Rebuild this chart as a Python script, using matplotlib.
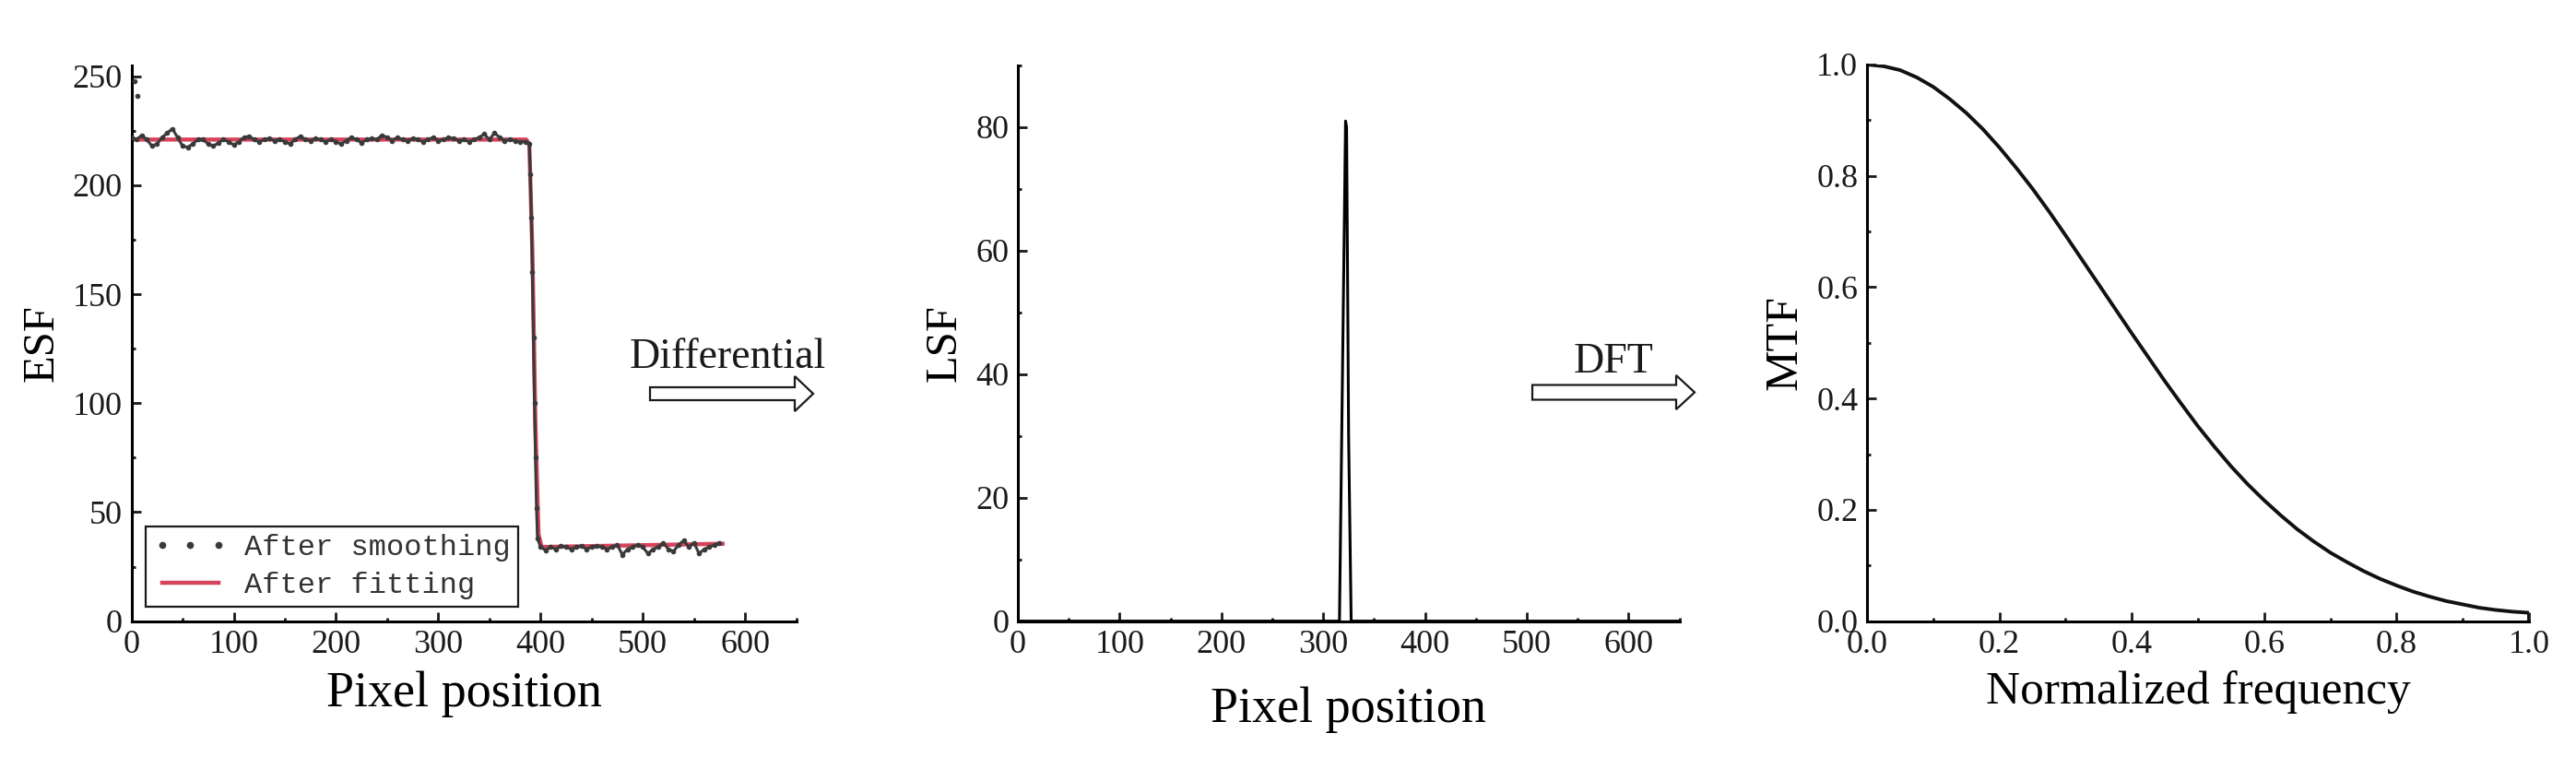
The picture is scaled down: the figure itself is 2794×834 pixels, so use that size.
import numpy as np
import matplotlib
matplotlib.use("Agg")
import matplotlib.pyplot as plt
from matplotlib.patches import Polygon
from matplotlib.ticker import MultipleLocator, FormatStrFormatter

# ---- data ----
# ESF, after smoothing (upper plateau every 5 px, edge, lower plateau)
esf_upper_x = list(range(0, 390, 5))
esf_upper_y = [222, 221, 223, 221, 218, 219, 222, 224, 226, 222,
               218, 217.5, 219, 221, 221, 219, 218, 219.5, 221, 220,
               218.5, 220, 222, 222.5, 221, 220, 221, 221.5, 220.5, 221,
               220, 219, 221, 222.5, 221, 220.5, 221.5, 221, 220, 221,
               220, 219, 220.5, 222, 221, 219.5, 221, 221.5, 221, 223,
               222, 220.5, 222, 221, 220.5, 221.5, 221, 220, 221, 222,
               220.5, 221, 222, 221.5, 220.5, 221, 220, 221, 222, 223.5,
               221, 224, 222, 220.5, 221, 220.5, 220, 220]
esf_edge_x = [389, 390, 391, 392, 393, 394, 395, 396, 397]
esf_edge_y = [219, 205, 185, 160, 130, 100, 75, 52, 38]
esf_lower_x = list(range(400, 580, 5))
esf_lower_y = [34, 32.5, 34, 33, 34.5, 34, 33, 34, 34.5, 33,
               34, 34.5, 34, 33, 34, 35, 30.5, 33, 34, 35,
               34, 31, 33, 34, 36, 33, 32, 35, 37, 34,
               36, 31, 33, 34, 35, 36]
esf_outlier_x = [3, 6]
esf_outlier_y = [248, 241]

# ESF, after fitting
fit_x = [0, 386, 389, 392, 395, 398, 401, 578]
fit_y = [221, 221, 219, 170, 90, 40, 34, 35.5]

# LSF spike
lsf_x = [0, 316, 322, 323, 325, 327.5, 650]
lsf_y = [0, 0, 81, 80, 30, 0, 0]

# MTF
mtf_x = [0.000, 0.025, 0.050, 0.075, 0.100, 0.125, 0.150, 0.175, 0.200,
         0.225, 0.250, 0.275, 0.300, 0.325, 0.350, 0.375, 0.400, 0.425,
         0.450, 0.475, 0.500, 0.525, 0.550, 0.575, 0.600, 0.625, 0.650,
         0.675, 0.700, 0.725, 0.750, 0.775, 0.800, 0.825, 0.850, 0.875,
         0.900, 0.925, 0.950, 0.975, 1.000, 1.000]
mtf_y = [1.000, 0.997, 0.990, 0.977, 0.960, 0.938, 0.913, 0.884, 0.851,
         0.815, 0.777, 0.736, 0.693, 0.649, 0.605, 0.561, 0.517, 0.474,
         0.431, 0.390, 0.350, 0.313, 0.278, 0.246, 0.217, 0.190, 0.165,
         0.143, 0.123, 0.106, 0.090, 0.076, 0.064, 0.053, 0.044, 0.036,
         0.030, 0.024, 0.020, 0.017, 0.015, 0.0]

esf_x = esf_upper_x + esf_edge_x + esf_lower_x
esf_y = esf_upper_y + esf_edge_y + esf_lower_y

plt.rcParams['font.family'] = ['Liberation Serif', 'DejaVu Serif']
plt.rcParams['axes.linewidth'] = 2.2

W, H = 2794, 834
fig = plt.figure(figsize=(W / 100, H / 100), dpi=100)


def fx(px):
    return px / W


def fy(py):
    return 1 - py / H


def style_axis(ax, xmaj, xmin, ymaj, ymin):
    ax.spines['top'].set_visible(False)
    ax.spines['right'].set_visible(False)
    ax.xaxis.set_major_locator(MultipleLocator(xmaj))
    ax.xaxis.set_minor_locator(MultipleLocator(xmin))
    ax.yaxis.set_major_locator(MultipleLocator(ymaj))
    ax.yaxis.set_minor_locator(MultipleLocator(ymin))
    ax.tick_params(which='both', direction='in', top=False, right=False,
                   width=2, labelsize=26, colors='#1a1a1a')
    ax.tick_params(which='major', length=7, pad=7)
    ax.tick_params(which='minor', length=3)


bottom, top = 673.6, 71
ax_h = (bottom - top) / H

# ===== ESF =====
ax1 = fig.add_axes([fx(142.6), fy(bottom), 721 / W, ax_h])
ax1.plot(fit_x, fit_y, color='#d6435a', lw=3.2, zorder=2)
ax1.plot(esf_x, esf_y, color='#3a3a3a', lw=2.2, zorder=3)
ax1.plot(esf_x + esf_outlier_x, esf_y + esf_outlier_y, 'o', ms=3,
         color='#3a3a3a', zorder=4, label='After smoothing')
ax1.plot([], [], color='#d6435a', lw=3.2, label='After fitting')
ax1.set_xlim(0, 650)
ax1.set_ylim(0, 255)
style_axis(ax1, 100, 50, 50, 25)
ax1.set_xlabel('Pixel position', fontsize=39, labelpad=8)
ax1.set_ylabel('ESF', fontsize=35, labelpad=8)
leg = ax1.legend(loc='lower left', bbox_to_anchor=(0.022, 0.026),
                 prop={'family': 'Liberation Mono', 'size': 23},
                 handlelength=2.5, handletextpad=0.6, numpoints=3,
                 markerscale=1.5, labelspacing=0.35, borderpad=0.25,
                 borderaxespad=0, fancybox=False, framealpha=1,
                 edgecolor='#1a1a1a')
leg.get_frame().set_linewidth(1.6)
for t in leg.get_texts():
    t.set_color('#333333')

# ===== LSF =====
ax2 = fig.add_axes([fx(1104), fy(bottom), 717.5 / W, ax_h])
ax2.plot(lsf_x, lsf_y, color='black', lw=2.2)
ax2.set_xlim(0, 650)
ax2.set_ylim(0, 90)
style_axis(ax2, 100, 50, 20, 10)
ax2.set_xlabel('Pixel position', fontsize=39, labelpad=20)
ax2.set_ylabel('LSF', fontsize=35, labelpad=8)

# ===== MTF =====
ax3 = fig.add_axes([fx(2025), fy(bottom), 718 / W, (bottom - 70) / H])
ax3.plot(mtf_x, mtf_y, color='#111111', lw=2.8)
ax3.set_xlim(0, 1.0)
ax3.set_ylim(0, 1.0)
style_axis(ax3, 0.2, 0.1, 0.2, 0.1)
ax3.xaxis.set_major_formatter(FormatStrFormatter('%.1f'))
ax3.yaxis.set_major_formatter(FormatStrFormatter('%.1f'))
ax3.set_xlabel('Normalized frequency', fontsize=37, labelpad=8)
ax3.set_ylabel('MTF', fontsize=36, labelpad=8)


# hollow arrows between panels
def hollow_arrow(x0, xh, tip, yc, t, h):
    pts = [(x0, yc - t), (xh, yc - t), (xh, yc - h), (tip, yc),
           (xh, yc + h), (xh, yc + t), (x0, yc + t)]
    pts = [(fx(px), fy(py)) for px, py in pts]
    fig.patches.append(Polygon(pts, closed=True, transform=fig.transFigure,
                               facecolor='white', edgecolor='#1a1a1a', lw=1.6))


hollow_arrow(705, 862, 882, 427, 7, 19)
fig.text(fx(789.5), fy(399), 'Differential', fontsize=33, ha='center',
         va='baseline', color='#1a1a1a')
hollow_arrow(1662, 1818, 1838, 425.5, 8, 18.5)
fig.text(fx(1750), fy(404), 'DFT', fontsize=33, ha='center',
         va='baseline', color='#1a1a1a')

fig.savefig('out.png', dpi=100)
